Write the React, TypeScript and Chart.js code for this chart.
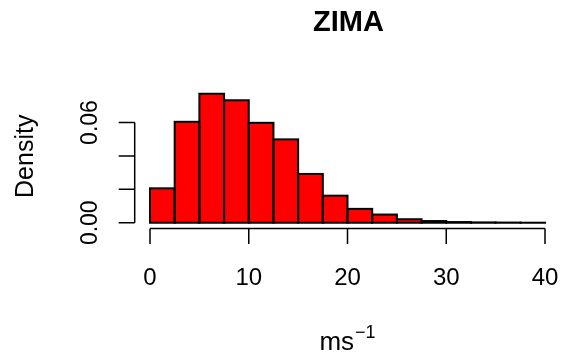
import React, { useEffect, useRef } from "react";
import { Chart, registerables } from "chart.js";

Chart.register(...registerables);

// Histogram bins (ms^-1) and their densities
const binEdges = [0, 2.5, 5, 7.5, 10, 12.5, 15, 17.5, 20, 22.5, 25, 27.5, 30, 32.5, 35, 37.5, 40];
const density = [
  0.0206, 0.0604, 0.0772, 0.0733, 0.0598, 0.0499, 0.0292, 0.0162,
  0.0083, 0.0049, 0.0021, 0.0010, 0.0004, 0.0002, 0.0001, 0.00002,
];

const xTicks = [0, 10, 20, 30, 40];
const xTickLabels = ["0", "10", "20", "30", "40"];
const yTicks = [0, 0.02, 0.04, 0.06];
const yTickLabels = ["0.00", "", "", "0.06"];

const chartTitle = "ZIMA";
const yAxisTitle = "Density";
const xAxisUnit = "ms";
const xAxisExponent = "\u22121";

const FONT = '"Liberation Sans", Arial, Helvetica, sans-serif';

// R-style ranges: data range extended by 4% on each side
const xLo = binEdges[0];
const xHi = binEdges[binEdges.length - 1];
const yHi = Math.max(...density);
const xPad = (xHi - xLo) * 0.04;
const yPad = yHi * 0.04;

const histogramFrame = {
  id: "histogramFrame",
  afterDatasetsDraw(chart: any) {
    const ctx = chart.ctx;
    const meta = chart.getDatasetMeta(0);
    ctx.save();
    ctx.strokeStyle = "#000";
    ctx.lineWidth = 2;
    ctx.lineJoin = "miter";
    meta.data.forEach((bar: any) => {
      const { x, y, base, width } = bar.getProps(["x", "y", "base", "width"], true);
      ctx.strokeRect(x - width / 2, y, width, base - y);
    });
    ctx.restore();
  },
  afterDraw(chart: any) {
    const ctx = chart.ctx;
    const xs = chart.scales.x;
    const ys = chart.scales.y;
    const area = chart.chartArea;
    ctx.save();
    ctx.strokeStyle = "#000";
    ctx.fillStyle = "#000";
    ctx.lineWidth = 1.5;

    // x axis
    const axY = area.bottom + 0.5;
    const tickLen = 15.5;
    ctx.beginPath();
    ctx.moveTo(xs.getPixelForValue(xTicks[0]), axY);
    ctx.lineTo(xs.getPixelForValue(xTicks[xTicks.length - 1]), axY);
    xTicks.forEach((t) => {
      const px = xs.getPixelForValue(t);
      ctx.moveTo(px, axY);
      ctx.lineTo(px, axY + tickLen);
    });
    ctx.stroke();
    ctx.font = `24px ${FONT}`;
    ctx.textAlign = "center";
    ctx.textBaseline = "alphabetic";
    xTicks.forEach((t, i) => {
      ctx.fillText(xTickLabels[i], xs.getPixelForValue(t), 285);
    });

    // y axis
    const axX = area.left + 0.5;
    ctx.beginPath();
    ctx.moveTo(axX, ys.getPixelForValue(yTicks[0]));
    ctx.lineTo(axX, ys.getPixelForValue(yTicks[yTicks.length - 1]));
    yTicks.forEach((t) => {
      const py = ys.getPixelForValue(t);
      ctx.moveTo(axX, py);
      ctx.lineTo(axX - 16, py);
    });
    ctx.stroke();
    ctx.font = `23px ${FONT}`;
    yTicks.forEach((t, i) => {
      if (!yTickLabels[i]) return;
      ctx.save();
      ctx.translate(96.5, ys.getPixelForValue(t));
      ctx.rotate(-Math.PI / 2);
      ctx.textAlign = "center";
      ctx.fillText(yTickLabels[i], 0, 0);
      ctx.restore();
    });

    // y axis title
    ctx.save();
    ctx.font = `25px ${FONT}`;
    ctx.translate(33, (area.top + area.bottom) / 2 - 2);
    ctx.rotate(-Math.PI / 2);
    ctx.textAlign = "center";
    ctx.fillText(yAxisTitle, 0, 0);
    ctx.restore();

    // x axis title with superscript exponent
    const cx = (area.left + area.right) / 2;
    ctx.font = `26px ${FONT}`;
    const wBase = ctx.measureText(xAxisUnit).width;
    ctx.font = `18px ${FONT}`;
    const wExp = ctx.measureText(xAxisExponent).width;
    const x0 = cx - (wBase + wExp + 1) / 2;
    ctx.textAlign = "left";
    ctx.font = `26px ${FONT}`;
    ctx.fillText(xAxisUnit, x0, 350);
    ctx.font = `18px ${FONT}`;
    ctx.fillText(xAxisExponent, x0 + wBase + 1, 338);

    // main title
    ctx.font = `bold 29px ${FONT}`;
    ctx.textAlign = "center";
    ctx.fillText(chartTitle, cx + 1, 31);

    ctx.restore();
  },
};

export default function App() {
  const canvasRef = useRef<HTMLCanvasElement>(null);

  useEffect(() => {
    const canvas = canvasRef.current;
    if (!canvas) return;
    const points = density.map((d, i) => ({
      x: (binEdges[i] + binEdges[i + 1]) / 2,
      y: d,
    }));
    const chart = new Chart(canvas, {
      type: "bar",
      data: {
        datasets: [
          {
            data: points as any,
            backgroundColor: "#FF0000",
            borderWidth: 0,
            barPercentage: 1,
            categoryPercentage: 1,
          },
        ],
      },
      options: {
        animation: false,
        responsive: false,
        devicePixelRatio: 1,
        layout: { padding: { left: 134.2, right: 1.2, top: 88.6, bottom: 128.1 } },
        plugins: {
          legend: { display: false },
          title: { display: false },
          tooltip: { enabled: false },
        },
        scales: {
          x: {
            type: "linear",
            display: false,
            offset: false,
            min: xLo - xPad,
            max: xHi + xPad,
          },
          y: {
            type: "linear",
            display: false,
            min: -yPad,
            max: yHi + yPad,
          },
        },
      },
      plugins: [histogramFrame],
    });
    return () => chart.destroy();
  }, []);

  return (
    <div
      style={{
        position: "absolute",
        left: 0,
        top: 0,
        width: 562,
        height: 356,
        background: "#fff",
      }}
    >
      <canvas ref={canvasRef} width={562} height={356} style={{ display: "block" }} />
    </div>
  );
}
